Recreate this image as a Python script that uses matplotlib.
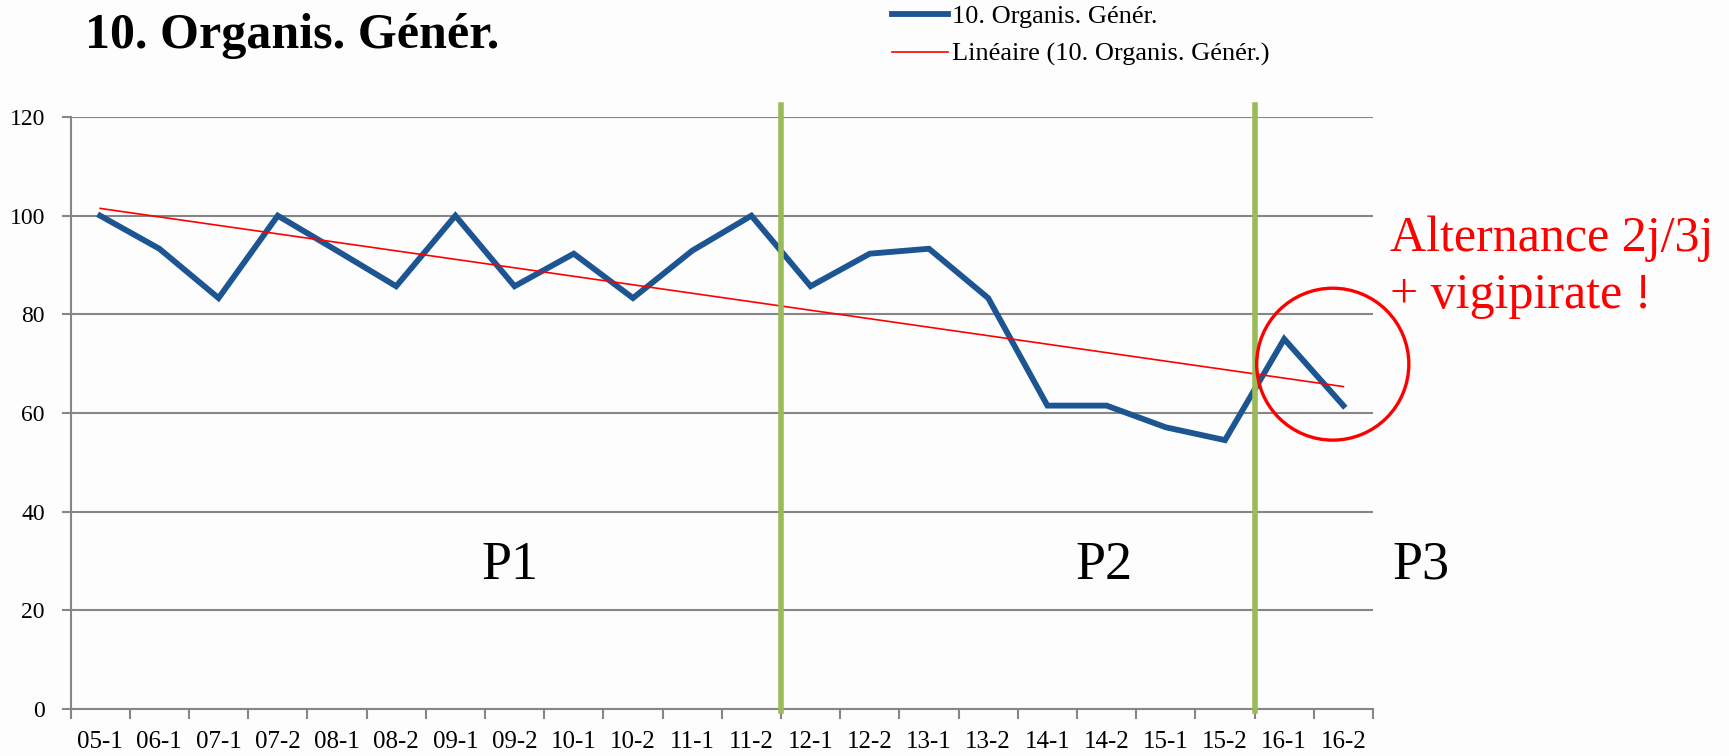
import numpy as np
import matplotlib
matplotlib.use("Agg")
from matplotlib import pyplot as plt
from matplotlib.patches import Ellipse

semesters = ["05-1", "06-1", "07-1", "07-2", "08-1", "08-2", "09-1", "09-2",
             "10-1", "10-2", "11-1", "11-2", "12-1", "12-2", "13-1", "13-2",
             "14-1", "14-2", "15-1", "15-2", "16-1", "16-2"]
scores = [100, 93.3, 83.3, 100, 92.9, 85.7, 100, 85.7,
          92.3, 83.3, 92.9, 100, 85.7, 92.3, 93.3, 83.3,
          61.5, 61.5, 57.1, 54.5, 75, 61.5]
yticks = [0, 20, 40, 60, 80, 100, 120]
period_breaks = [11.5, 19.5]
period_labels = ["P1", "P2", "P3"]
period_label_x = [6.92, 16.96, 22.31]
series_name = "10. Organis. Génér."

plt.rcParams['font.family'] = ['Liberation Serif', 'DejaVu Serif']

fig = plt.figure(figsize=(17.29, 7.56), dpi=100)
fig.patch.set_facecolor("#fdfdfd")
ax = fig.add_axes([0.0408, 0.0622, 0.7533, 0.783])
ax.set_facecolor("#fdfdfd")

x = np.arange(len(semesters))
ax.plot(x, scores, color="#1c5592", lw=4.2, solid_joinstyle="miter",
        label=series_name, zorder=4)

# linear trend like the excel one
a, b = np.polyfit(x, scores, 1)
ax.plot(x, a * x + b, color="#ff0000", lw=1.2,
        label="Linéaire (" + series_name + ")", zorder=5)

for xb in period_breaks:
    ax.plot([xb, xb], [-0.5, 122.5], color="#9bbb59", lw=4, clip_on=False, zorder=6)

ax.set_xlim(-0.5, len(semesters) - 0.5)
ax.set_ylim(0, 120)
ax.set_yticks(yticks)
ax.set_xticks(x)
ax.set_xticklabels(semesters)
ax.set_xticks(np.arange(-0.5, len(semesters)), minor=True)
ax.tick_params(axis="x", which="major", length=0, pad=16, labelsize=18)
ax.tick_params(axis="x", which="minor", length=7, width=1.5, color="#868686", direction="out")
ax.tick_params(axis="y", length=6.5, width=1.5, color="#868686", pad=12, labelsize=17)
ax.yaxis.grid(True, color="#868686", lw=1.5)
ax.set_axisbelow(True)
for s in ["top", "right"]:
    ax.spines[s].set_visible(False)
for s in ["left", "bottom"]:
    ax.spines[s].set_color("#868686")
    ax.spines[s].set_linewidth(1.5)

for lab, px in zip(period_labels, period_label_x):
    ax.text(px, 26.4, lab, fontsize=39, ha="center", va="baseline", clip_on=False)

ax.text(21.79, 92.8, "Alternance 2j/3j", color="#ff0000", fontsize=36,
        ha="left", va="baseline", clip_on=False)
ax.text(21.79, 81.3, "+ vigipirate !", color="#ff0000", fontsize=36,
        ha="left", va="baseline", clip_on=False)
ax.add_patch(Ellipse((20.82, 69.9), 2.57, 30.8, fill=False, ec="#ff0000", lw=2.4,
                     clip_on=False, zorder=7))

fig.text(0.049, 0.9365, series_name, fontsize=36, fontweight="bold", ha="left", va="baseline")

ax.legend(loc="upper left", bbox_to_anchor=(0.516, 0.994), bbox_transform=fig.transFigure,
          frameon=False, fontsize=19, handlelength=2.1, handletextpad=0.15,
          labelspacing=0.55, borderpad=0, borderaxespad=0)

fig.savefig("out.png", dpi=100, facecolor=fig.get_facecolor())
